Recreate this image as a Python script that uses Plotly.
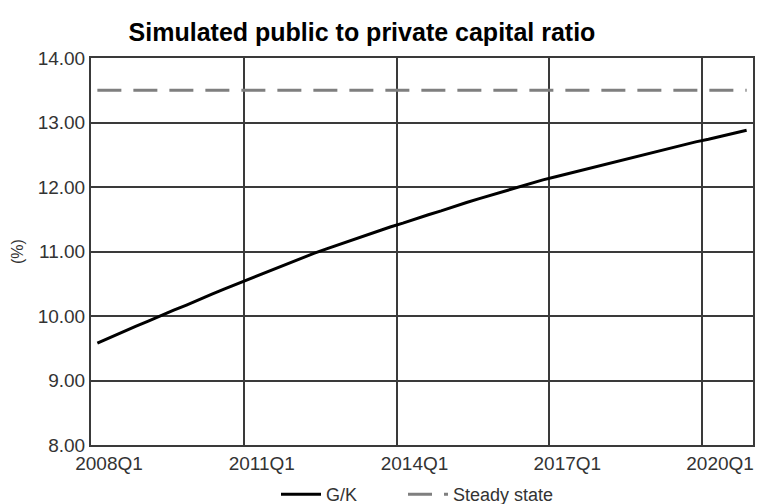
import plotly.graph_objects as go

years = list(range(2008, 2021))
quarters = [f"{y}Q{q}" for y in years for q in range(1, 5)]

gk = [9.58, 9.67, 9.75, 9.84, 9.92, 10.01, 10.09, 10.17, 10.26, 10.34, 10.42, 10.50,
      10.58, 10.66, 10.74, 10.81, 10.89, 10.97, 11.04, 11.11, 11.18, 11.25, 11.32, 11.38,
      11.44, 11.51, 11.57, 11.63, 11.70, 11.76, 11.82, 11.88, 11.94, 12.00, 12.05, 12.11,
      12.16, 12.21, 12.26, 12.31, 12.36, 12.41, 12.46, 12.51, 12.56, 12.60, 12.65, 12.70,
      12.74, 12.79, 12.84, 12.88]
steady = [13.5] * len(quarters)

tick_labels = ["2008Q1", "2011Q1", "2014Q1", "2017Q1", "2020Q1"]
y_ticks = [8, 9, 10, 11, 12, 13, 14]

idx = list(range(len(quarters)))
tick_pos = [quarters.index(t) - 0.5 for t in tick_labels]

fig = go.Figure()
fig.add_trace(go.Scatter(x=idx, y=gk, mode="lines", name="G/K", legend="legend",
                         line=dict(color="black", width=3)))
fig.add_trace(go.Scatter(x=idx, y=steady, mode="lines", name="Steady state",
                         legend="legend2",
                         line=dict(color="#7f7f7f", width=3, dash="24px,12px")))

leg_common = dict(orientation="h", y=-0.08, yanchor="top", xanchor="left",
                  font=dict(size=18, color="#333333"), itemwidth=40,
                  bgcolor="rgba(0,0,0,0)")

fig.update_layout(
    width=763, height=504,
    margin=dict(l=91, r=10, t=58, b=59, autoexpand=False),
    paper_bgcolor="white", plot_bgcolor="white",
    font=dict(family="Liberation Sans, Arial", size=19, color="#333333"),
    title=dict(text="<b>Simulated public to private capital ratio</b>",
               x=362 / 763, xanchor="center", y=1 - 32 / 504, yanchor="middle",
               xref="container", yref="container",
               font=dict(size=25, color="black"), automargin=False),
    showlegend=True,
    legend=dict(x=(276 - 91) / 662, **leg_common),
    legend2=dict(x=(403 - 91) / 662, **leg_common),
    xaxis=dict(range=[-0.5, len(quarters) - 0.5], tickmode="array",
               tickvals=tick_pos, ticktext=tick_labels, ticklabelshift=18,
               showgrid=True, gridcolor="#3a3a3a", gridwidth=1.5,
               showline=True, linecolor="#3a3a3a", linewidth=2, mirror=True,
               ticks="", zeroline=False, automargin=False,
               tickfont=dict(size=19)),
    yaxis=dict(range=[8, 14], tickmode="array", tickvals=y_ticks,
               ticktext=[f"{v:.2f}" for v in y_ticks],
               showgrid=True, gridcolor="#3a3a3a", gridwidth=1.5,
               showline=True, linecolor="#3a3a3a", linewidth=2, mirror=True,
               ticks="", zeroline=False, automargin=False,
               tickfont=dict(size=19),
               title=dict(text="(%)", standoff=10, font=dict(size=16))),
)

fig.write_html("out.html", config={"displayModeBar": False},
               post_script="document.body.style.margin='0';")
